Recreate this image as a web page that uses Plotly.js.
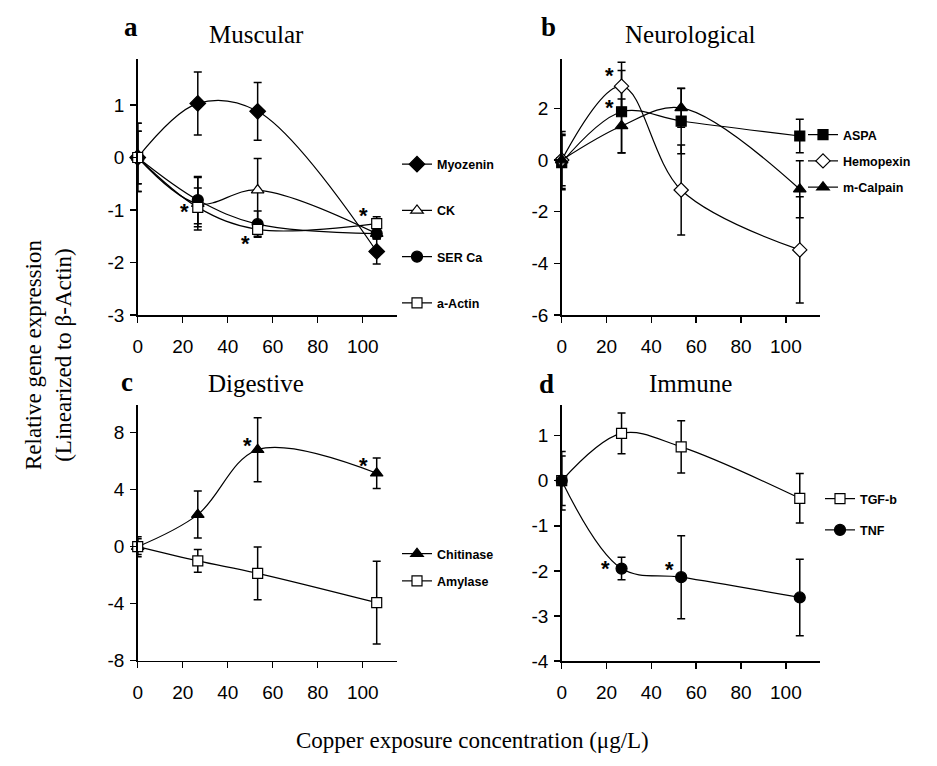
<!DOCTYPE html>
<html><head><meta charset="utf-8">
<script src="https://cdn.plot.ly/plotly-3.0.1.min.js"></script>
<style>body{margin:0;background:#fff}#chart{width:937px;height:766px}</style>
</head><body><div id="chart"></div>
<script>
// ---- data ----
const conc = [0, 26.7, 53.3, 106.2];
const xTicks = [0, 20, 40, 60, 80, 100];

// a: Muscular
const myozenin = [0, 1.03, 0.88, -1.79];
const myozeninErr = [0.5, 0.6, 0.55, 0.24];
const ck = [0, -0.88, -0.62, -1.45];
const ckErr = [0.65, 0.5, 0.6, 0.1];
const serCa = [0, -0.81, -1.27, -1.45];
const serCaErr = [0.5, 0.45, 0.25, 0.1];
const aActin = [0, -0.95, -1.37, -1.26];
const aActinErr = [0.65, 0.37, 0.13, 0.13];
const ticksA = [-3, -2, -1, 0, 1];

// b: Neurological
const aspa = [-0.1, 1.87, 1.51, 0.93];
const aspaErr = [1.05, 1.6, 1.27, 0.65];
const hemopexin = [0, 2.86, -1.16, -3.48];
const hemopexinErr = [1.0, 0.93, 1.74, 2.06];
const mCalpain = [0, 1.32, 2.02, -1.13];
const mCalpainErr = [1.1, 1.04, 0.75, 1.1];
const ticksB = [-6, -4, -2, 0, 2];

// c: Digestive
const chitinase = [0, 2.25, 6.8, 5.15];
const chitinaseErr = [0.7, 1.65, 2.25, 1.07];
const amylase = [0, -1.0, -1.87, -3.93];
const amylaseErr = [0.55, 0.8, 1.85, 2.9];
const ticksC = [-8, -4, 0, 4, 8];

// d: Immune
const tgfb = [0, 1.05, 0.75, -0.39];
const tgfbErr = [0.65, 0.45, 0.58, 0.55];
const tnf = [0, -1.95, -2.14, -2.59];
const tnfErr = [0.55, 0.25, 0.92, 0.85];
const ticksD = [-4, -3, -2, -1, 0, 1];

// significance marks: [series values, point index]
const sigA = [[aActin, 1], [aActin, 2], [aActin, 3]];
const sigB = [[hemopexin, 1], [aspa, 1]];
const sigC = [[chitinase, 2], [chitinase, 3]];
const sigD = [[tnf, 1], [tnf, 2]];

// ---- styling ----
const W = 937, H = 766;
const serif = 'Liberation Serif, Times New Roman, serif';
const sans = 'Liberation Sans, Arial, sans-serif';

function tr(name, y, err, symbol, fill, size, xa, ya, leg) {
  return {
    type: 'scatter', mode: 'lines+markers', name: name, x: conc, y: y,
    xaxis: xa, yaxis: ya, legend: leg, legendgroup: name, cliponaxis: false,
    line: {color: '#000', width: 1.2, shape: 'spline', smoothing: 1},
    marker: {symbol: symbol, color: fill, size: size, line: {color: '#000', width: 1.2}},
    error_y: {type: 'data', array: err, visible: true, color: '#000', thickness: 1.5, width: 4}
  };
}

const data = [
  tr('Myozenin', myozenin, myozeninErr, 'diamond', '#000', 12, 'x', 'y', 'legend'),
  tr('CK', ck, ckErr, 'triangle-up', '#fff', 11, 'x', 'y', 'legend'),
  tr('SER Ca', serCa, serCaErr, 'circle', '#000', 11, 'x', 'y', 'legend'),
  tr('a-Actin', aActin, aActinErr, 'square', '#fff', 10, 'x', 'y', 'legend'),
  tr('ASPA', aspa, aspaErr, 'square', '#000', 10, 'x2', 'y2', 'legend2'),
  tr('Hemopexin', hemopexin, hemopexinErr, 'diamond', '#fff', 11, 'x2', 'y2', 'legend2'),
  tr('m-Calpain', mCalpain, mCalpainErr, 'triangle-up', '#000', 11, 'x2', 'y2', 'legend2'),
  tr('Chitinase', chitinase, chitinaseErr, 'triangle-up', '#000', 11, 'x3', 'y3', 'legend3'),
  tr('Amylase', amylase, amylaseErr, 'square', '#fff', 10, 'x3', 'y3', 'legend3'),
  tr('TGF-b', tgfb, tgfbErr, 'square', '#fff', 10, 'x4', 'y4', 'legend4'),
  tr('TNF', tnf, tnfErr, 'circle', '#000', 11, 'x4', 'y4', 'legend4')
];

const px = v => v / W;
const py = v => 1 - v / H;

function xax(x0, x1, yanchor) {
  return {domain: [px(x0), px(x1)], range: [0, 115], anchor: yanchor,
    tickvals: xTicks, ticktext: xTicks.map(String), ticks: 'outside', ticklen: 6, tickwidth: 1.5, tickcolor: '#000',
    showline: true, linecolor: '#000', linewidth: 1.5, showgrid: false, zeroline: false,
    ticklabelstandoff: 8, tickfont: {family: sans, size: 19, color: '#000'}};
}
function yax(top, bot, range, tv, xanchor) {
  return {domain: [py(bot), py(top)], range: range, anchor: xanchor,
    tickvals: tv, ticktext: tv.map(String), ticks: 'outside', ticklen: 6, tickwidth: 1.5, tickcolor: '#000',
    showline: true, linecolor: '#000', linewidth: 1.5, showgrid: false, zeroline: false,
    ticklabelstandoff: 2, tickfont: {family: sans, size: 19, color: '#000'}};
}

function leg(xText, yTop, gap) {
  return {x: px(xText - 40), y: py(yTop), xanchor: 'left', yanchor: 'top',
    bgcolor: 'rgba(0,0,0,0)', borderwidth: 0, tracegroupgap: gap, traceorder: 'grouped',
    itemwidth: 30, font: {family: sans, size: 12.5, color: '#000', weight: 'bold'}};
}

const ann = [];
function star(list, xa, ya, shifts) {
  list.forEach((s, i) => {
    ann.push({xref: xa, yref: ya, x: conc[s[1]], y: s[0][s[1]], text: '*', showarrow: false,
      xanchor: 'center', yanchor: 'middle',
      xshift: shifts[i][0], yshift: shifts[i][1],
      font: {family: sans, size: 22, color: '#000', weight: 'bold'}});
  });
}
star(sigA, 'x', 'y', [[-13, -4], [-12, -14], [-13, 8]]);
star(sigB, 'x2', 'y2', [[-12, 11], [-12, 4]]);
star(sigC, 'x3', 'y3', [[-10, 4], [-13, 8]]);
star(sigD, 'x4', 'y4', [[-16, 0], [-12, 8]]);

function txt(x, y, t, size, family, bold, extra) {
  ann.push(Object.assign({xref: 'paper', yref: 'paper', x: px(x), y: py(y), text: t, showarrow: false,
    xanchor: 'center', yanchor: 'middle',
    font: {family: family, size: size, color: '#000', weight: bold ? 'bold' : 'normal'}}, extra || {}));
}
txt(256, 35, 'Muscular', 25, serif, false);
txt(690, 35, 'Neurological', 25, serif, false);
txt(256, 383, 'Digestive', 25, serif, false);
txt(690, 383, 'Immune', 25, serif, false);
txt(131, 27, 'a', 27, serif, true);
txt(548, 27, 'b', 27, serif, true);
txt(127, 382, 'c', 27, serif, true);
txt(546, 384, 'd', 27, serif, true);
txt(48, 355, 'Relative gene expression<br>(Linearized to β-Actin)', 23, serif, false, {textangle: -90});
txt(472, 740, 'Copper exposure concentration (μg/L)', 23, serif, false);

const layout = {
  width: W, height: H, margin: {l: 0, r: 0, t: 0, b: 0},
  paper_bgcolor: '#fff', plot_bgcolor: '#fff', showlegend: true,
  xaxis: xax(137.7, 396.5, 'y'), yaxis: yax(59.3, 315, [-3, 1.87], ticksA, 'x'),
  xaxis2: xax(561.7, 819.5, 'y2'), yaxis2: yax(59.3, 315, [-6, 3.9], ticksB, 'x2'),
  xaxis3: xax(137.7, 396.5, 'y3'), yaxis3: yax(405, 660.7, [-8, 9.94], ticksC, 'x3'),
  xaxis4: xax(561.7, 819.5, 'y4'), yaxis4: yax(405, 661, [-4, 1.68], ticksD, 'x4'),
  legend: leg(437, 149.5, 27),
  legend2: leg(843, 120, 7),
  legend3: leg(437, 539, 8),
  legend4: leg(860, 484, 12),
  annotations: ann
};
Plotly.newPlot('chart', data, layout, {displayModeBar: false, staticPlot: true});
</script></body></html>
